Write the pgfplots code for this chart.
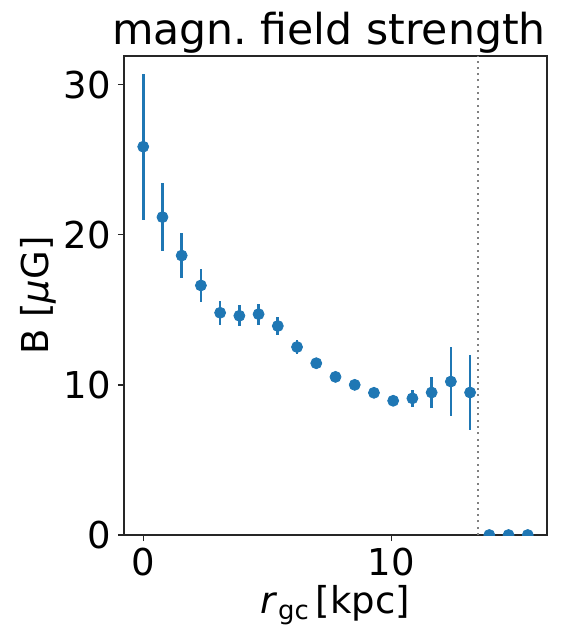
\documentclass[border=0pt]{standalone}
\usepackage{fontspec}
\setmainfont{DejaVu Sans}
\usepackage{pgfplots}
\pgfplotsset{compat=1.18}
\definecolor{c0}{HTML}{1F77B4}
\pgfplotstableread{
x y e
0 25.86 4.87
0.775 21.17 2.27
1.55 18.61 1.5
2.325 16.62 1.1
3.1 14.80 0.8
3.875 14.60 0.7
4.65 14.71 0.7
5.425 13.92 0.6
6.2 12.52 0.45
6.975 11.44 0.2
7.75 10.53 0.15
8.525 10.0 0.1
9.3 9.47 0.1
10.075 8.94 0.35
10.85 9.10 0.55
11.625 9.49 1.0
12.4 10.22 2.3
13.175 9.49 2.5
13.95 0 0
14.725 0 0
15.5 0 0
}\datatable
\begin{document}
\begin{tikzpicture}
\begin{axis}[
 scale only axis, width=211.5pt, height=239.5pt,
 xmin=-0.775, xmax=16.275, ymin=0, ymax=31.9,
 xtick={0,10}, ytick={0,10,20,30},
 tick align=outside, tick pos=left, major tick length=3.1pt,
 /pgf/number format/assume math mode=true,
 tick label style={font=\fontsize{18.5}{20}\selectfont},
 xticklabel style={anchor=base, inner sep=0pt, yshift=-16.9pt},
 yticklabel style={anchor=east, inner sep=0pt, xshift=-3.2pt},
 every axis x label/.style={at={(axis description cs:0.5,-0.1649)}, anchor=base, inner sep=0pt, font=\fontsize{18.5}{20}\selectfont},
 every axis y label/.style={at={(axis description cs:-0.1773,0.5)}, anchor=base, inner sep=0pt, rotate=90, font=\fontsize{18.5}{20}\selectfont},
 every axis title/.style={at={(axis description cs:0.4846,1.023)}, anchor=base, inner sep=0pt, font=\fontsize{21.3}{24}\selectfont},
 title={magn.\ field strength},
 xlabel={\textit{r}\textsubscript{gc}\,[kpc]},
 ylabel={B [\textit{μ}G]},
 axis line style={line width=0.7pt, black!85},
 every tick/.style={black!85, line width=0.7pt},
 clip marker paths=true,
]
\addplot[gray, line width=1pt, dash pattern=on 1pt off 2.15pt] coordinates {(13.5,0) (13.5,31.9)};
\addplot[c0, only marks, mark=*, mark size=2.75pt, mark options={draw=c0, fill=c0},
  error bars/.cd, y dir=both, y explicit, error mark=none,
  error bar style={line width=1.35pt, c0}]
  table[x=x, y=y, y error=e] {\datatable};
\end{axis}
\pgfresetboundingbox
\path[use as bounding box] ([xshift=-62pt,yshift=-46.5pt]current axis.south west) rectangle ([xshift=8.5pt,yshift=28pt]current axis.north east);
\end{tikzpicture}
\end{document}
